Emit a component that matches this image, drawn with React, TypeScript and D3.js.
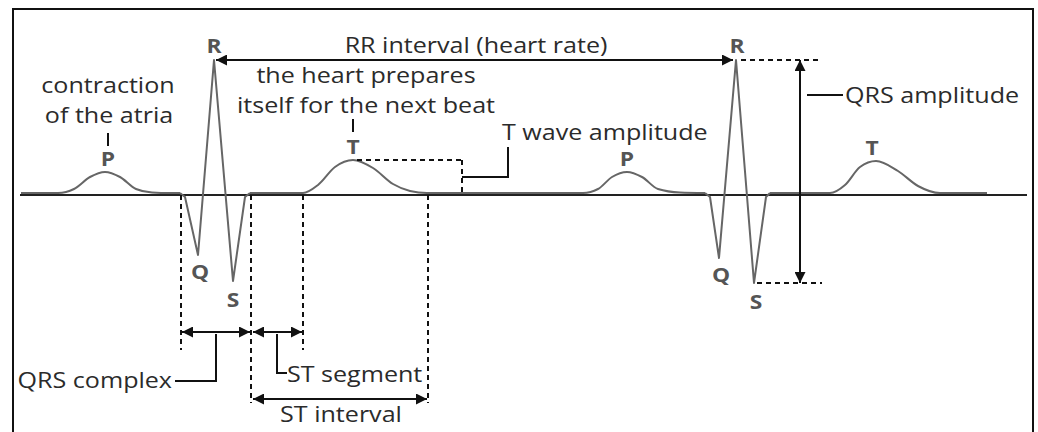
import * as d3 from 'd3';

type Pt = [number, number];

// ECG trace: x = time (drawing units), y = amplitude (mV)
const leadIn: Pt[] = [[21, 0.02], [58, 0.02], [74, 0.06], [90, 0.18], [105, 0.23], [120, 0.18], [136, 0.06], [152, 0.025], [170, 0.02], [180, 0.02]];
const qrs1: Pt[] = [[180, 0.02], [185, -0.02], [198, -0.6], [214, 1.35], [233, -0.86], [245, -0.02], [250, 0.02]];
const middle: Pt[] = [[250, 0.02], [303, 0.02], [318, 0.1], [335, 0.28], [353, 0.35], [373, 0.27], [393, 0.11], [410, 0.04], [427, 0.02], [583, 0.02], [598, 0.06], [612, 0.18], [627, 0.23], [642, 0.18], [658, 0.06], [680, 0.025], [705, 0.02]];
const qrs2: Pt[] = [[705, 0.02], [710, -0.02], [719, -0.63], [736, 1.35], [754, -0.88], [766, -0.02], [770, 0.02]];
const tail: Pt[] = [[770, 0.02], [830, 0.02], [845, 0.1], [860, 0.28], [876, 0.34], [898, 0.24], [918, 0.09], [940, 0.02], [987, 0.02]];

// wave labels (peak x, peak amplitude)
const upLabels = [
  { name: 'R', x: 214, v: 1.35 },
  { name: 'R', x: 737, v: 1.35 },
  { name: 'P', x: 108, v: 0.23 },
  { name: 'P', x: 627, v: 0.23 },
  { name: 'T', x: 353, v: 0.35 },
  { name: 'T', x: 872, v: 0.34 },
];
const downLabels = [
  { name: 'Q', x: 200, v: -0.6 },
  { name: 'Q', x: 721, v: -0.63 },
  { name: 'S', x: 233, v: -0.86 },
  { name: 'S', x: 756, v: -0.88 },
];

// interval markers (time)
const qrsOnset = 181;
const jPoint = 251;
const tOnset = 303;
const tOffset = 428;
const tAmpMark = 462;
const rPeak1 = 214;
const rPeak2 = 736;
const sPeak2 = 754;
const rAmp = 1.35;
const sAmp2 = -0.88;
const tPeak1 = 353;
const tAmp1 = 0.35;

const W = 1038;
const H = 432;

const x = d3.scaleLinear().domain([20, 1027]).range([20, 1027]);
const y = d3.scaleLinear().domain([0, 1]).range([195, 95]);

const smooth = d3.line<Pt>().x(d => x(d[0])).y(d => y(d[1])).curve(d3.curveMonotoneX);
const sharp = d3.line<Pt>().x(d => x(d[0])).y(d => y(d[1])).curve(d3.curveLinear);

const FONT = '"Open Sans", sans-serif';
const TXT = '#2b2b2b';
const DASH = '5,4';
const STRETCH = 1.14;

// text stretched a bit horizontally, like the source figure
const Label = ({ x, y, anchor = 'start', size = 22, bold = false, fill = TXT, children }:
  { x: number; y: number; anchor?: string; size?: number; bold?: boolean; fill?: string; children: string }) => (
  <text transform={`translate(${x},${y}) scale(${STRETCH},1)`} textAnchor={anchor}
    fontFamily={FONT} fontSize={size} fontWeight={bold ? 'bold' : 'normal'} fill={fill}>
    {children}
  </text>
);

export default function App() {
  const base = y(0);
  const qrsArrowY = 332;
  const stArrowY = 399;
  const ampX = 800;
  const tTop = y(tAmp1);

  return (
    <svg width={W} height={H} style={{ position: 'fixed', left: 0, top: 0, background: '#fff' }}>
      <defs>
        <marker id="ah" viewBox="0 0 10 10" refX="10" refY="5" markerWidth="13" markerHeight="11"
          markerUnits="userSpaceOnUse" orient="auto-start-reverse">
          <path d="M0,0 L10,5 L0,10 z" fill="#111" />
        </marker>
      </defs>
      <rect x={13} y={9} width={1020} height={H + 20} fill="none" stroke="#111" strokeWidth={2} />

      {/* baseline */}
      <line x1={x(20)} x2={x(1027)} y1={base} y2={base} stroke="#222" strokeWidth={2} />

      {/* trace */}
      <g fill="none" stroke="#666" strokeWidth={2} strokeLinejoin="round">
        <path d={smooth(leadIn) || ''} />
        <path d={sharp(qrs1) || ''} />
        <path d={smooth(middle) || ''} />
        <path d={sharp(qrs2) || ''} />
        <path d={smooth(tail) || ''} />
      </g>

      {/* dashed guides */}
      <g stroke="#111" strokeWidth={2} strokeDasharray={DASH} fill="none">
        <line x1={x(qrsOnset)} x2={x(qrsOnset)} y1={base} y2={350} />
        <line x1={x(jPoint)} x2={x(jPoint)} y1={base} y2={403} />
        <line x1={x(tOnset)} x2={x(tOnset)} y1={base} y2={350} />
        <line x1={x(tOffset)} x2={x(tOffset)} y1={base} y2={403} />
        <line x1={x(tPeak1) + 4} x2={x(tAmpMark)} y1={tTop} y2={tTop} />
        <line x1={x(tAmpMark)} x2={x(tAmpMark)} y1={tTop} y2={base} />
        <line x1={x(rPeak2) + 5} x2={822} y1={y(rAmp)} y2={y(rAmp)} />
        <line x1={x(sPeak2) + 3} x2={822} y1={y(sAmp2)} y2={y(sAmp2)} />
      </g>

      {/* arrows */}
      <g stroke="#111" strokeWidth={2} fill="none">
        <line x1={x(rPeak1) + 2} x2={x(rPeak2) - 3} y1={y(rAmp)} y2={y(rAmp)} markerStart="url(#ah)" markerEnd="url(#ah)" />
        <line x1={x(qrsOnset) + 1} x2={x(jPoint) - 1} y1={qrsArrowY} y2={qrsArrowY} markerStart="url(#ah)" markerEnd="url(#ah)" />
        <line x1={x(jPoint) + 2} x2={x(tOnset) - 1} y1={qrsArrowY} y2={qrsArrowY} markerStart="url(#ah)" markerEnd="url(#ah)" />
        <line x1={x(jPoint) + 2} x2={x(tOffset) - 1} y1={stArrowY} y2={stArrowY} markerStart="url(#ah)" markerEnd="url(#ah)" />
        <line x1={ampX} x2={ampX} y1={y(rAmp)} y2={y(sAmp2)} markerStart="url(#ah)" markerEnd="url(#ah)" />
        {/* leader lines */}
        <polyline points={`${(x(qrsOnset) + x(jPoint)) / 2},${qrsArrowY + 2} ${(x(qrsOnset) + x(jPoint)) / 2},381 175,381`} />
        <polyline points={`${(x(jPoint) + x(tOnset)) / 2},${qrsArrowY + 2} ${(x(jPoint) + x(tOnset)) / 2},373 287,373`} />
        <polyline points={`${x(tAmpMark)},177 508,177 508,147`} />
        <line x1={807} x2={843} y1={95} y2={95} />
        <line x1={108} x2={108} y1={133} y2={146} />
        <line x1={x(tPeak1)} x2={x(tPeak1)} y1={119} y2={132} />
      </g>

      {/* wave letters */}
      {upLabels.map((d, i) => (
        <Label key={'u' + i} x={x(d.x)} y={y(d.v) - (d.name === 'R' ? 7 : 6)} anchor="middle" size={20} bold fill="#555">{d.name}</Label>
      ))}
      {downLabels.map((d, i) => (
        <Label key={'d' + i} x={x(d.x)} y={y(d.v) + (d.name === 'Q' ? 24 : 26)} anchor="middle" size={20} bold fill="#555">{d.name}</Label>
      ))}

      {/* annotations */}
      <Label x={476} y={53} anchor="middle">RR interval (heart rate)</Label>
      <Label x={108} y={93} anchor="middle">contraction</Label>
      <Label x={109} y={123} anchor="middle">of the atria</Label>
      <Label x={366} y={83} anchor="middle">the heart prepares</Label>
      <Label x={366} y={113} anchor="middle">itself for the next beat</Label>
      <Label x={502} y={140}>T wave amplitude</Label>
      <Label x={845} y={103}>QRS amplitude</Label>
      <Label x={172} y={388} anchor="end">QRS complex</Label>
      <Label x={287} y={382}>ST segment</Label>
      <Label x={341} y={422} anchor="middle">ST interval</Label>
    </svg>
  );
}
